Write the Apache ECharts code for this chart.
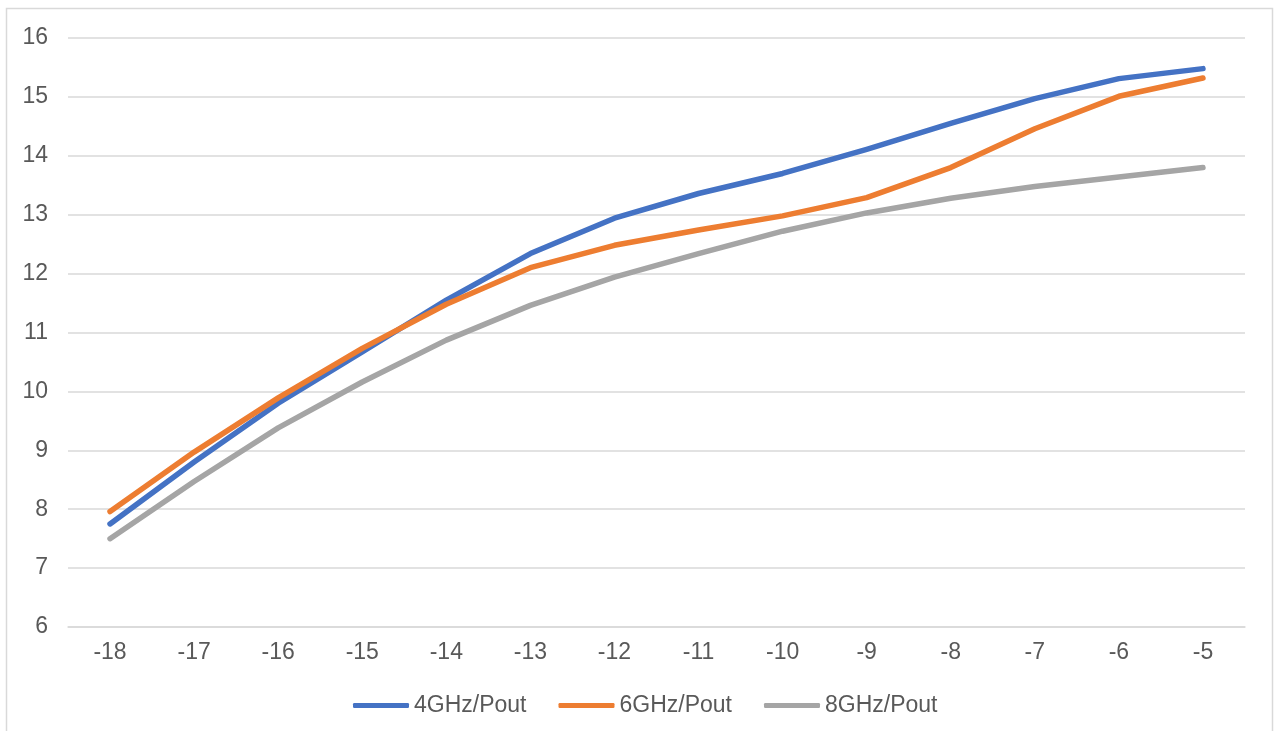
<!DOCTYPE html>
<html>
<head>
<meta charset="utf-8">
<script src="https://cdn.jsdelivr.net/npm/echarts@6/dist/echarts.min.js"></script>
<style>html,body{margin:0;padding:0;background:#fff;}#c{width:1274px;height:731px;}</style>
</head>
<body>
<div id="c"></div>
<script>
var categories = ['-18','-17','-16','-15','-14','-13','-12','-11','-10','-9','-8','-7','-6','-5'];
var s4GHz = [7.75, 8.80, 9.80, 10.67, 11.55, 12.34, 12.94, 13.36, 13.70, 14.11, 14.55, 14.97, 15.31, 15.48];
var s6GHz = [7.96, 8.97, 9.89, 10.73, 11.48, 12.10, 12.48, 12.74, 12.98, 13.29, 13.80, 14.46, 15.01, 15.32];
var s8GHz = [7.50, 8.47, 9.38, 10.16, 10.87, 11.46, 11.94, 12.34, 12.72, 13.03, 13.28, 13.48, 13.64, 13.80];
var seriesNames = ['4GHz/Pout', '6GHz/Pout', '8GHz/Pout'];
var colors = ['#4472C4', '#ED7D31', '#A5A5A5'];

var chart = echarts.init(document.getElementById('c'));
var font = 'Liberation Sans';
function mk(name, data, color) {
  return {
    name: name, type: 'line', data: data, symbol: 'none', smooth: false,
    lineStyle: { color: color, width: 5.5, cap: 'round', join: 'round' },
    itemStyle: { color: color }
  };
}
chart.setOption({
  animation: false,
  backgroundColor: '#fff',
  color: colors,
  graphic: [{
    type: 'rect', silent: true,
    shape: { x: 6.5, y: 8.5, width: 1266, height: 740 },
    style: { fill: 'none', stroke: '#d9d9d9', lineWidth: 1.5 }
  }],
  grid: { left: 68, right: 29, top: 38, bottom: 104, containLabel: false },
  legend: {
    data: seriesNames,
    bottom: 9,
    left: 348,
    icon: 'roundRect',
    itemWidth: 56,
    itemHeight: 5,
    itemGap: 32,
    textStyle: { color: '#595959', fontSize: 23, fontFamily: font }
  },
  xAxis: {
    type: 'category',
    data: categories,
    boundaryGap: true,
    axisLine: { show: true, lineStyle: { color: '#d9d9d9', width: 1.5 } },
    axisTick: { show: false },
    axisLabel: { color: '#595959', fontSize: 23, fontFamily: font, margin: 14 }
  },
  yAxis: {
    type: 'value',
    min: 6, max: 16, interval: 1,
    axisLine: { show: false },
    axisTick: { show: false },
    splitLine: { lineStyle: { color: '#d9d9d9', width: 1.5 } },
    axisLabel: { color: '#595959', fontSize: 23, fontFamily: font, margin: 20 }
  },
  series: [
    mk(seriesNames[0], s4GHz, colors[0]),
    mk(seriesNames[1], s6GHz, colors[1]),
    mk(seriesNames[2], s8GHz, colors[2])
  ]
});
</script>
</body>
</html>
